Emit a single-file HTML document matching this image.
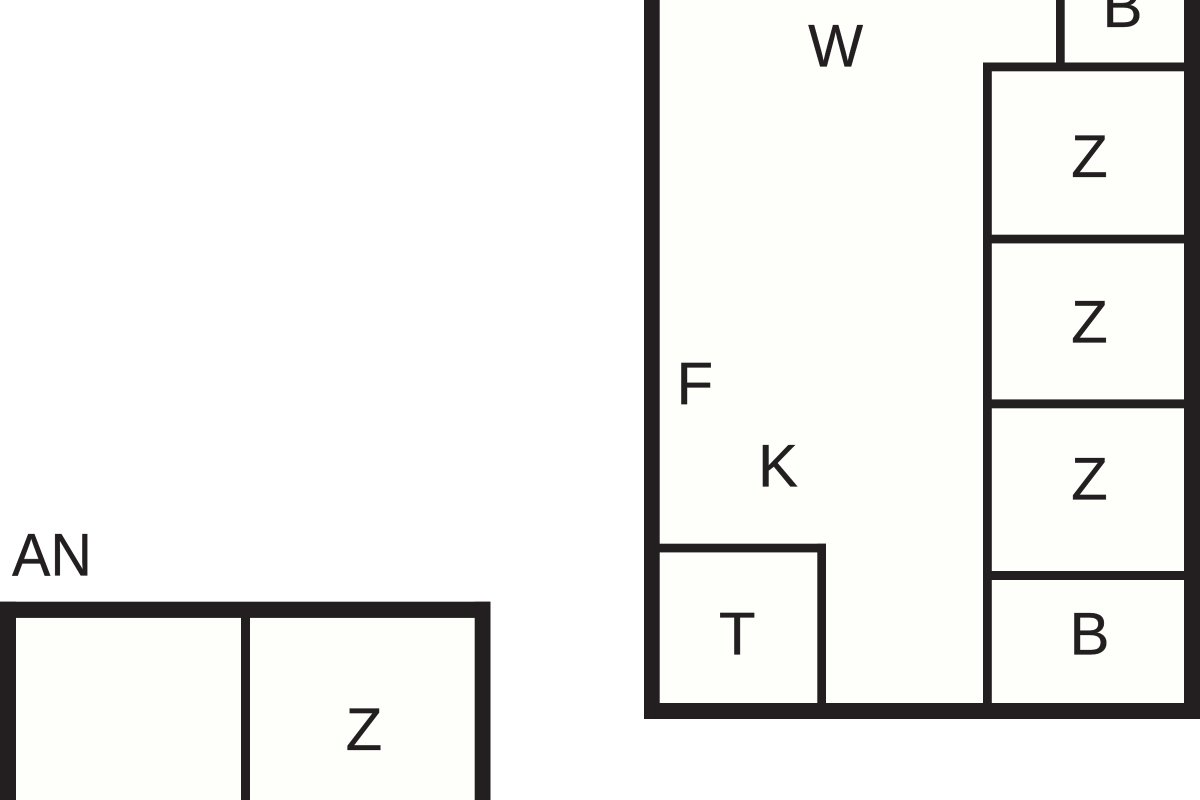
<!DOCTYPE html>
<html>
<head>
<meta charset="utf-8">
<style>
html,body{margin:0;padding:0;background:#fff;}
svg{display:block;}
text{font-family:"Liberation Sans",sans-serif;fill:#231f20;text-anchor:middle;}
</style>
</head>
<body>
<svg width="1200" height="800" viewBox="0 0 1200 800" xmlns="http://www.w3.org/2000/svg">
<rect width="1200" height="800" fill="#ffffff"/>
<!-- right plan -->
<rect x="651" y="-20" width="541" height="731" fill="#fefefa"/>
<g fill="#231f20">
<rect x="644" y="0" width="15.7" height="719"/>
<rect x="1184" y="0" width="16" height="719"/>
<rect x="644" y="703" width="556" height="16"/>
<rect x="983" y="62.5" width="8.8" height="645"/>
<rect x="983" y="62.5" width="205" height="8.8"/>
<rect x="1056" y="0" width="8.7" height="66"/>
<rect x="987" y="234.7" width="201" height="8.7"/>
<rect x="987" y="399.4" width="201" height="8.9"/>
<rect x="987" y="571" width="201" height="9"/>
<rect x="655" y="543.7" width="171" height="8.7"/>
<rect x="817.3" y="543.7" width="8.7" height="164"/>
</g>
<!-- left plan -->
<rect x="8" y="610" width="474" height="200" fill="#fefefa"/>
<g fill="#231f20">
<rect x="0" y="601.7" width="490.5" height="16.2"/>
<rect x="0" y="601.7" width="16" height="198.3"/>
<rect x="474.7" y="601.7" width="15.8" height="198.3"/>
<rect x="241" y="610" width="9" height="190"/>
</g>
<!-- labels -->
<g font-size="60" stroke="#231f20" stroke-width="0.35">
<text x="835.6" y="66.6" textLength="55" lengthAdjust="spacingAndGlyphs">W</text>
<text x="1122.5" y="27">B</text>
<text x="1089.5" y="177">Z</text>
<text x="1089.5" y="342.3">Z</text>
<text x="1089.5" y="499.7">Z</text>
<text x="1089.5" y="654.4">B</text>
<text x="694.8" y="404.3">F</text>
<text x="778" y="486.3">K</text>
<text x="737.2" y="654.6">T</text>
<text x="364" y="750">Z</text>
<text x="52" y="575.3" textLength="80" lengthAdjust="spacingAndGlyphs">AN</text>
</g>
</svg>
</body>
</html>
